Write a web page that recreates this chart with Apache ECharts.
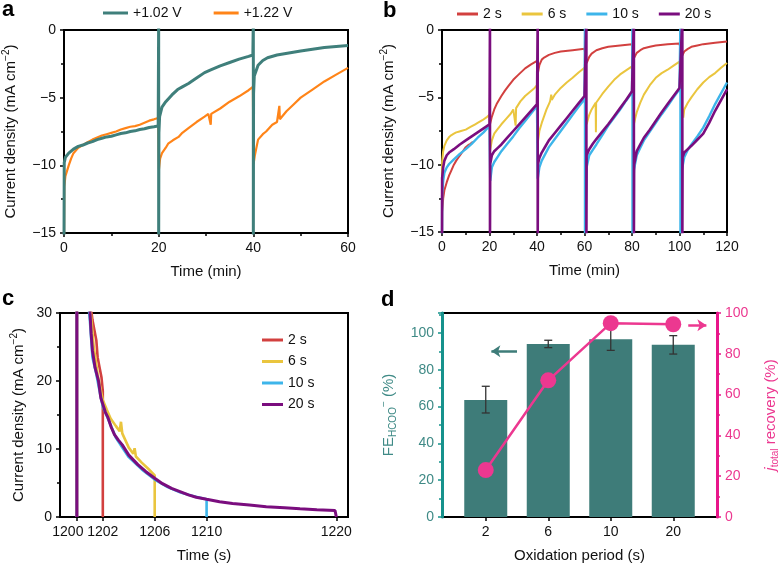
<!DOCTYPE html>
<html><head><meta charset="utf-8">
<script src="https://cdn.jsdelivr.net/npm/echarts@6/dist/echarts.min.js"></script>
<style>html,body{margin:0;padding:0;background:#fff}#c{width:781px;height:564px}</style>
</head><body><div id="c"></div>
<script>
// ---------- Panel a: chronoamperometry, [time (min), current density (mA cm-2)]
const a_102V = [[0,-16],[0.05,-9.8],[0.3,-9.4],[1,-9.1],[2,-8.8],[3,-8.6],[4,-8.5],[5,-8.35],[6,-8.25],[7,-8.1],[8,-8.0],[9,-7.9],[10,-7.85],[11,-7.75],[12,-7.65],[13,-7.6],[14,-7.5],[15,-7.45],[16,-7.35],[17,-7.3],[18,-7.2],[19,-7.15],[19.9,-7.1],[20,1],[20,-16],[20.05,-7.6],[20.2,-6.4],[20.7,-5.7],[21.5,-5.3],[22.8,-4.8],[24,-4.4],[25,-4.2],[26.3,-3.95],[28,-3.55],[29.7,-3.15],[31,-2.95],[33,-2.65],[35,-2.4],[37,-2.15],[39,-1.95],[39.9,-1.85],[40,1],[40,-16],[40.05,-4.7],[40.2,-3.4],[41,-2.6],[42,-2.25],[43,-2.05],[45,-1.85],[47.5,-1.7],[50,-1.55],[52.5,-1.42],[55,-1.3],[57.5,-1.22],[60,-1.15]];
const a_122V = [[0,-16],[0.05,-11.6],[0.3,-10.8],[1,-10.0],[1.5,-9.5],[2,-9.1],[3,-8.7],[4,-8.5],[5,-8.3],[6,-8.1],[7,-7.95],[8,-7.8],[9,-7.7],[10,-7.6],[11,-7.5],[12,-7.35],[13,-7.25],[14,-7.15],[15,-7.1],[16,-7.0],[17,-6.85],[18,-6.7],[19,-6.6],[19.9,-6.5],[20.05,-10.3],[20.3,-9.5],[20.7,-9.1],[21.5,-8.7],[22,-8.4],[23,-8.15],[24.2,-7.9],[25,-7.6],[26.3,-7.25],[28,-6.8],[29.7,-6.4],[30.5,-6.2],[31,-7.0],[31.1,-6.2],[33,-5.8],[35,-5.3],[37,-4.9],[39,-4.45],[39.9,-4.2],[40.05,-9.9],[40.3,-9.3],[41,-8.1],[42,-7.7],[42.7,-7.5],[44,-7.0],[45,-6.8],[45.5,-5.6],[45.6,-6.6],[47,-6.0],[48.5,-5.5],[50,-5.0],[52.5,-4.4],[55,-3.8],[57.5,-3.3],[60,-2.8]];

// ---------- Panel b: pulsed operation, [time (min), current density]
const b_2s = [[0,-16],[0.05,-13.5],[0.5,-12.5],[1,-11.9],[2,-11.3],[3,-10.8],[4,-10.4],[5,-10.0],[6,-9.7],[7,-9.45],[8,-9.2],[9,-8.95],[10,-8.7],[11,-8.55],[12,-8.45],[13,-8.3],[13.5,'-'],[20.2,-7.0],[20.9,-6.5],[22,-5.9],[23,-5.5],[24,-5.2],[25,-4.9],[26.5,-4.5],[28,-4.15],[30,-3.7],[32,-3.35],[35,-2.85],[37.5,-2.55],[40,-2.3],[40.3,-3.3],[41,-2.6],[42,-2.2],[43,-2.05],[45,-1.85],[47.5,-1.7],[50,-1.6],[55,-1.5],[60,-1.4],[60.9,-2.45],[62,-2.0],[63,-1.75],[65,-1.5],[67.5,-1.35],[70,-1.25],[75,-1.15],[80,-1.05],[80.8,-2.1],[82,-1.7],[83.5,-1.5],[85,-1.35],[87.5,-1.25],[90,-1.15],[95,-1.05],[100,-1.0],[101,-1.95],[102,-1.6],[103.5,-1.4],[105,-1.25],[107.5,-1.15],[110,-1.05],[115,-0.95],[120,-0.85]];
const b_6s = [[0,-16],[0.05,-9.8],[0.5,-9.0],[1,-8.6],[2,-8.2],[3,-7.95],[4,-7.8],[5,-7.7],[6,-7.6],[7,-7.55],[8,-7.5],[10,-7.4],[12,-7.2],[14,-7.0],[15,-6.9],[17,-6.7],[19,-6.45],[20,-6.3],[20.2,-9.0],[21,-8.2],[22,-7.7],[23,-7.45],[25,-7.0],[27,-6.6],[29,-6.2],[30,-5.9],[30.8,-5.8],[31,-7.1],[31.2,-5.8],[33,-5.3],[35,-4.9],[37,-4.6],[39,-4.3],[40,-4.1],[40.3,-8.4],[41,-7.5],[42,-6.9],[43,-6.4],[44,-5.9],[45,-5.5],[45.5,-5.3],[46,-4.8],[46.2,-5.2],[47.5,-4.8],[50,-4.3],[52.5,-3.9],[55,-3.55],[57.5,-3.15],[60,-2.8],[60.9,-7.0],[61.5,-6.6],[62,-6.3],[63,-5.9],[64,-5.6],[64.7,-5.4],[64.8,-7.6],[64.9,-5.4],[65,-5.4],[67.5,-4.75],[70,-4.2],[72.5,-3.7],[75,-3.3],[77.5,-3.0],[80,-2.7],[80.8,-7.0],[81.3,-6.6],[82,-6.1],[83.5,-5.4],[85,-4.8],[87.5,-4.1],[90,-3.55],[92.5,-3.2],[95,-2.95],[97.5,-2.65],[100,-2.35],[101.3,-6.3],[101.6,-6.5],[102,-5.9],[103.5,-5.4],[105,-5.0],[107.5,-4.4],[110,-3.9],[112.5,-3.5],[115,-3.2],[117.5,-2.8],[120,-2.45]];
const b_10s = [[0,-16],[0.05,-12.3],[0.5,-11.2],[1,-10.6],[2,-10.2],[3,-9.95],[5,-9.6],[7.5,-9.2],[10,-8.85],[12.5,-8.45],[15,-8.0],[17.5,-7.6],[20,-7.1],[20.3,-11.2],[21,-10.2],[22,-9.8],[23.5,-9.4],[25,-9.0],[27.5,-8.45],[30,-7.9],[32.5,-7.3],[35,-6.75],[37.5,-6.2],[40,-5.65],[40.3,-11.05],[41,-10.2],[42,-9.7],[43.5,-9.2],[45,-8.7],[47.5,-8.1],[50,-7.5],[52.5,-6.9],[55,-6.3],[57.5,-5.7],[60,-5.15],[60.2,1],[60.2,-16],[60.9,-16],[60.9,-10.2],[62,-9.3],[63.5,-8.9],[65,-8.5],[67.5,-7.8],[70,-7.1],[72.5,-6.5],[75,-5.9],[77.5,-5.25],[80,-4.65],[80.2,1],[80.2,-16],[80.8,-16],[80.8,-10.4],[82,-9.3],[83.5,-8.75],[85,-8.2],[87.5,-7.55],[90,-6.9],[92.5,-6.25],[95,-5.65],[97.5,-5.0],[100,-4.4],[100.4,1],[100.4,-16],[101,-16],[101,-10.4],[102,-9.45],[103.5,-8.9],[105,-8.5],[107.5,-7.9],[110,-7.25],[112.5,-6.4],[115,-5.5],[117.5,-4.7],[120,-3.9]];
const b_20s = [[0,-16],[0.05,-11],[0.5,-10.2],[1,-9.7],[2,-9.3],[3,-9.1],[5,-8.85],[7.5,-8.5],[10,-8.2],[12.5,-7.9],[15,-7.6],[17.5,-7.3],[20,-7.0],[20.2,1],[20.2,-16],[20.3,-9.95],[21,-9.3],[22,-9.0],[23.5,-8.75],[25,-8.5],[27.5,-8.0],[30,-7.5],[32.5,-7.0],[35,-6.5],[37.5,-6.0],[40,-5.5],[40.3,1],[40.3,-16],[40.4,-9.95],[41,-9.5],[42,-9.1],[43.5,-8.65],[45,-8.2],[47.5,-7.65],[50,-7.1],[52.5,-6.55],[55,-6.0],[57.5,-5.45],[60,-4.9],[60.8,1],[60.8,-16],[60.9,-9.3],[62,-8.85],[63.5,-8.45],[65,-8.1],[67.5,-7.55],[70,-7.0],[72.5,-6.4],[75,-5.8],[77.5,-5.2],[80,-4.55],[80.8,1],[80.8,-16],[80.9,-10.0],[82,-9.0],[83.5,-8.5],[85,-8.0],[87.5,-7.4],[90,-6.75],[92.5,-6.1],[95,-5.5],[97.5,-4.9],[100,-4.3],[101.2,1],[101.2,-16],[101.3,-9.45],[102,-9.1],[103.5,-8.85],[105,-8.6],[107.5,-8.15],[110,-7.7],[112.5,-6.9],[115,-6.0],[117.5,-5.2],[120,-4.4]];

// ---------- Panel c: reduction transient after oxidation pulse, [time (s), current density]
const c_2s = [[1200,0],[1200,40],[1200.7,36],[1201.1,30.5],[1201.2,29],[1201.35,27.5],[1201.5,26],[1201.6,23.5],[1201.75,22],[1201.9,20.5],[1202,18.5],[1202,0]];
const c_6s = [[1200,0],[1200,40],[1200.7,36],[1201.05,30.5],[1201.3,25],[1201.6,21],[1202,17.2],[1202.3,15.8],[1202.6,14.5],[1203,13.4],[1203.3,12.6],[1203.4,14],[1203.5,12.3],[1204,10.2],[1204.35,9.3],[1204.45,10.1],[1204.55,8.9],[1205,8.0],[1205.5,7.1],[1206,6.1],[1206,0]];
const c_10s = [[1200,0],[1200,40],[1200.7,35],[1201,29],[1201.2,23.5],[1201.5,21],[1201.8,18],[1202,16.2],[1202.5,14],[1203,11.7],[1203.5,10.2],[1204,8.8],[1205,7.0],[1206,5.5],[1207,4.4],[1208,3.6],[1209,3.05],[1210,2.6],[1210,0]];
const c_20s = [[1200,0],[1200,40],[1200.6,36],[1201,30.5],[1201.1,27],[1201.2,24.5],[1201.4,22],[1201.67,20],[1201.85,17.5],[1202,16.6],[1202.2,15.4],[1202.4,14.6],[1202.65,13.2],[1202.9,12.1],[1203.2,11.3],[1203.5,10.6],[1204,9.1],[1204.7,7.7],[1205.3,6.7],[1206,5.7],[1206.6,4.9],[1207.3,4.2],[1208,3.7],[1208.6,3.25],[1209.2,2.9],[1210,2.6],[1211,2.25],[1212,2.0],[1213.3,1.75],[1214.6,1.5],[1216,1.35],[1217.2,1.2],[1218.5,1.05],[1219.9,0.95],[1220,0]];
const cTicks = [1200, 1202, 1206, 1210, 1220];

// ---------- Panel d
const periods = ['2', '6', '10', '20'];
const feHCOO = [63.5, 94, 96.5, 93.5];
const feLow  = [56.5, 92, 90.5, 88.5];
const feHigh = [71, 96, 102, 98.5];
const recovery = [23, 67, 95, 94.5];

const FONT = "'Liberation Sans', Arial, Helvetica, sans-serif";
const INK = '#111';
const TICKFS = 14, NAMEFS = 15;
const C = {teal:'#3f7f7b', orange:'#ff8418', red:'#d2403f', yellow:'#eac53e', blue:'#3db5ea', purple:'#7a0d7e', bar:'#3e7c79', pink:'#ec3890', tealAxis:'#16928c', tealText:'#3f8a86', pinkAxis:'#e8168a'};

function minus(v){ return v < 0 ? '\u2212' + Math.abs(v) : String(v); }

const baseAxis = {
  axisLine:{show:true, onZero:false, lineStyle:{color:'#000', width:2}},
  axisTick:{show:true, length:4, lineStyle:{color:'#000', width:1.5}},
  minorTick:{show:true, splitNumber:2, length:3, lineStyle:{color:'#000', width:1.5}},
  splitLine:{show:false},
  axisLabel:{fontSize:TICKFS, color:INK, fontFamily:FONT, margin:8},
  nameLocation:'middle',
  nameTextStyle:{fontSize:NAMEFS, color:INK, fontFamily:FONT}
};
function ax(o){ return Object.assign({}, JSON.parse(JSON.stringify(baseAxis)), o); }

const cdName = '{n|Current density (mA cm}{s|\u22122}{n|)}';
const cdRich = {n:{fontSize:NAMEFS, color:INK, fontFamily:FONT, lineHeight:19}, s:{fontSize:10, color:INK, fontFamily:FONT, verticalAlign:'top', lineHeight:10}};

const gridBase = {show:true, borderColor:'#000', borderWidth:2, backgroundColor:'rgba(0,0,0,0)', containLabel:false};

const lineS = (name, data, color, xi, w) => ({type:'line', name, data, xAxisIndex:xi, yAxisIndex:xi, showSymbol:false, symbol:'none', clip:true, color, lineStyle:{color, width:w}, z:2});

const chart = echarts.init(document.getElementById('c'), null, {renderer:'canvas'});
chart.setOption({
  animation:false,
  backgroundColor:'#fff',
  textStyle:{fontFamily:FONT},
  grid:[
    Object.assign({left:63, top:30, width:285, height:203}, gridBase),
    Object.assign({left:442, top:30, width:285, height:202}, gridBase),
    Object.assign({left:60, top:313, width:288, height:204}, gridBase),
    Object.assign({left:442, top:313, width:279, height:205}, gridBase)
  ],
  xAxis:[
    ax({gridIndex:0, type:'value', min:0, max:60, interval:20, name:'Time (min)', nameGap:31}),
    ax({gridIndex:1, type:'value', min:0, max:120, interval:20, name:'Time (min)', nameGap:31}),
    ax({gridIndex:2, type:'value', min:1198.7, max:1220.9, name:'Time (s)', nameGap:31,
        minorTick:{show:false},
        axisTick:{show:true, length:4, customValues:cTicks, lineStyle:{color:'#000', width:1.5}},
        axisLabel:{fontSize:TICKFS, color:INK, fontFamily:FONT, margin:8, customValues:cTicks, showMinLabel:true, showMaxLabel:true, hideOverlap:false,
          formatter:v => v === cTicks[0] ? '{s|' + v + '}' : String(v),
          rich:{s:{fontSize:TICKFS, color:INK, fontFamily:FONT, padding:[0,18,0,0]}}}}),
    ax({gridIndex:3, type:'value', min:0.3, max:4.7, name:'Oxidation period (s)', nameGap:31,
        minorTick:{show:false},
        axisTick:{show:true, length:4, customValues:[1,2,3,4], lineStyle:{color:'#000', width:1.5}},
        axisLabel:{fontSize:TICKFS, color:INK, fontFamily:FONT, margin:8, customValues:[1,2,3,4], formatter:v => periods[Math.round(v)-1]}})
  ],
  yAxis:[
    ax({gridIndex:0, type:'value', min:-15, max:0, interval:5, axisLabel:{fontSize:TICKFS, color:INK, fontFamily:FONT, margin:8, formatter:minus}, name:cdName, nameGap:44, nameRotate:90, nameTextStyle:{rich:cdRich}}),
    ax({gridIndex:1, type:'value', min:-15, max:0, interval:5, axisLabel:{fontSize:TICKFS, color:INK, fontFamily:FONT, margin:8, formatter:minus}, name:cdName, nameGap:44, nameRotate:90, nameTextStyle:{rich:cdRich}}),
    ax({gridIndex:2, type:'value', min:0, max:30, interval:10, name:cdName, nameGap:32, nameRotate:90, nameTextStyle:{rich:cdRich}}),
    ax({gridIndex:3, type:'value', min:0, max:110.8, interval:20, z:5,
        axisLine:{show:true, lineStyle:{color:C.tealAxis, width:3}},
        axisTick:{show:true, length:4, lineStyle:{color:C.tealAxis, width:1.5}},
        minorTick:{show:true, splitNumber:2, length:3, lineStyle:{color:C.tealAxis, width:1.5}},
        axisLabel:{fontSize:TICKFS, color:C.tealText, fontFamily:FONT, margin:8, showMaxLabel:false},
        name:'{n|FE}{b|HCOO}{p|\u2212}{n| (%)}', nameGap:44, nameRotate:90,
        nameTextStyle:{rich:{n:{fontSize:NAMEFS, color:C.tealText, fontFamily:FONT, lineHeight:19}, b:{fontSize:10, color:C.tealText, fontFamily:FONT, verticalAlign:'bottom', lineHeight:10}, p:{fontSize:10, color:C.tealText, fontFamily:FONT, verticalAlign:'top', lineHeight:10}}}}),
    ax({gridIndex:3, type:'value', position:'right', min:0, max:100, interval:20, z:5,
        axisLine:{show:true, lineStyle:{color:C.pinkAxis, width:3}},
        axisTick:{show:true, length:4, lineStyle:{color:C.pinkAxis, width:1.5}},
        minorTick:{show:true, splitNumber:2, length:3, lineStyle:{color:C.pinkAxis, width:1.5}},
        axisLabel:{fontSize:TICKFS, color:C.pink, fontFamily:FONT, margin:8},
        name:'{j|j}{b|total}{n| recovery (%)}', nameGap:44, nameRotate:90,
        nameTextStyle:{rich:{n:{fontSize:NAMEFS, color:C.pink, fontFamily:FONT, lineHeight:19}, j:{fontSize:NAMEFS, fontStyle:'italic', color:C.pink, fontFamily:FONT, lineHeight:19}, b:{fontSize:10, color:C.pink, fontFamily:FONT, verticalAlign:'bottom', lineHeight:10}}}})
  ],
  legend:[
    {left:103, top:6, padding:0, icon:'rect', itemWidth:25, itemHeight:3, itemGap:32, data:['+1.02 V','+1.22 V'], textStyle:{fontSize:14, color:INK, fontFamily:FONT}},
    {left:457, top:7, padding:0, icon:'rect', itemWidth:21, itemHeight:3, itemGap:20, data:['2 s','6 s','10 s','20 s'], textStyle:{fontSize:14, color:INK, fontFamily:FONT}},
    {left:262, top:333, padding:0, orient:'vertical', icon:'rect', itemWidth:21, itemHeight:3, itemGap:7.5, data:['2 s','6 s','10 s','20 s'], textStyle:{fontSize:14, color:INK, fontFamily:FONT}}
  ],
  graphic:[
    {type:'text', left:2, top:-1, style:{text:'a', font:'bold 22px ' + FONT, fill:'#000'}},
    {type:'text', left:383, top:0, style:{text:'b', font:'bold 22px ' + FONT, fill:'#000'}},
    {type:'text', left:2, top:288, style:{text:'c', font:'bold 22px ' + FONT, fill:'#000'}},
    {type:'text', left:381, top:289, style:{text:'d', font:'bold 22px ' + FONT, fill:'#000'}}
  ],
  series:[
    lineS('+1.22 V', a_122V, C.orange, 0, 2.2),
    lineS('+1.02 V', a_102V, C.teal, 0, 3),
    lineS('2 s', b_2s, C.red, 1, 2),
    lineS('6 s', b_6s, C.yellow, 1, 2),
    lineS('10 s', b_10s, C.blue, 1, 2.4),
    lineS('20 s', b_20s, C.purple, 1, 2.6),
    lineS('2 s', c_2s, C.red, 2, 2.6),
    lineS('6 s', c_6s, C.yellow, 2, 2.6),
    lineS('10 s', c_10s, C.blue, 2, 2.6),
    lineS('20 s', c_20s, C.purple, 2, 3),
    {type:'bar', name:'FE', xAxisIndex:3, yAxisIndex:3, barWidth:43, itemStyle:{color:C.bar}, z:2,
     data: feHCOO.map((v,i) => [i+1, v]),
     markLine:{silent:true, symbol:['none','arrow'], symbolSize:[9,9], label:{show:false}, lineStyle:{color:C.bar, width:2.5, type:'solid'},
       data:[[{coord:[1.5,90]},{coord:[1.09,90]}]]}},
    {type:'custom', name:'err', xAxisIndex:3, yAxisIndex:3, z:3,
     data: feLow.map((v,i) => [i+1, v, feHigh[i]]),
     encode:{x:0, y:[1,2]},
     renderItem:function(params, api){
       const x = api.value(0);
       const lo = api.coord([x, api.value(1)]), hi = api.coord([x, api.value(2)]);
       const w = 4, st = {stroke:'#333', lineWidth:1.3};
       return {type:'group', children:[
         {type:'line', shape:{x1:lo[0], y1:lo[1], x2:hi[0], y2:hi[1]}, style:st},
         {type:'line', shape:{x1:lo[0]-w, y1:lo[1], x2:lo[0]+w, y2:lo[1]}, style:st},
         {type:'line', shape:{x1:hi[0]-w, y1:hi[1], x2:hi[0]+w, y2:hi[1]}, style:st}
       ]};
     }},
    {type:'line', name:'recovery', xAxisIndex:3, yAxisIndex:4, z:4,
     data: recovery.map((v,i) => [i+1, v]),
     symbol:'circle', symbolSize:16, showSymbol:true, color:C.pink,
     lineStyle:{color:C.pink, width:2.5}, itemStyle:{color:C.pink},
     markLine:{silent:true, symbol:['none','arrow'], symbolSize:[9,9], label:{show:false}, lineStyle:{color:C.pink, width:2.5, type:'solid'},
       data:[[{coord:[4.24,94]},{coord:[4.53,94]}]]}}
  ]
});
</script></body></html>
